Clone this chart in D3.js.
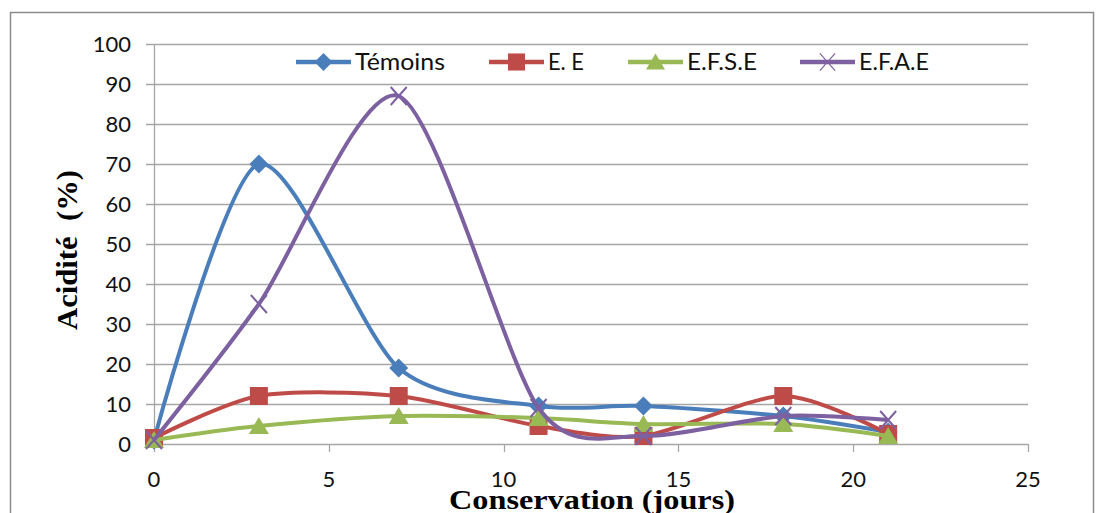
<!DOCTYPE html>
<html>
<head>
<meta charset="utf-8">
<script src="https://cdn.jsdelivr.net/npm/d3@7"></script>
<style>
  body { margin: 0; background: #fff; }
  svg { display: block; }
  text { white-space: pre; }
</style>
</head>
<body>
<div id="chart"></div>
<script>
// data
const days = [0, 3, 7, 11, 14, 18, 21];
const temoins = [1, 70, 19, 9.5, 9.5, 7, 3];
const ee = [1.5, 12, 12, 4.5, 2, 12, 2.5];
const efse = [1, 4.5, 7, 6.5, 5, 5, 2];
const efae = [1, 35, 87, 9, 2, 7, 6];
const seriesNames = ["Témoins", "E. E", "E.F.S.E", "E.F.A.E"];
const xTicks = [0, 5, 10, 15, 20, 25];
const yTicks = [0, 10, 20, 30, 40, 50, 60, 70, 80, 90, 100];

const series = [
  {name: seriesNames[0], values: temoins, color: "#4a7ebb", marker: "diamond"},
  {name: seriesNames[1], values: ee, color: "#be4b48", marker: "square"},
  {name: seriesNames[2], values: efse, color: "#98b954", marker: "triangle"},
  {name: seriesNames[3], values: efae, color: "#7d60a0", marker: "cross"}
];

const W = 1105, H = 513;
const svg = d3.select("#chart").append("svg").attr("width", W).attr("height", H);

// outer frame
svg.append("rect").attr("x", 10.5).attr("y", 12.5).attr("width", 1083).attr("height", 520)
  .attr("fill", "none").attr("stroke", "#8c8c8c").attr("stroke-width", 1.5);

const plot = {left: 154, right: 1028, top: 44, bottom: 444};
const x = d3.scaleLinear().domain([0, 25]).range([plot.left, plot.right]);
const y = d3.scaleLinear().domain([0, 100]).range([plot.bottom, plot.top]);

// gridlines
svg.append("g").selectAll("line").data(yTicks).join("line")
  .attr("x1", plot.left - 8).attr("x2", plot.right)
  .attr("y1", d => Math.round(y(d)) + 0.5).attr("y2", d => Math.round(y(d)) + 0.5)
  .attr("stroke", "#a6a6a6").attr("stroke-width", 1.3);

// y axis line
svg.append("line").attr("x1", plot.left + 0.5).attr("x2", plot.left + 0.5)
  .attr("y1", plot.top).attr("y2", plot.bottom).attr("stroke", "#a6a6a6").attr("stroke-width", 1.3);

// x ticks
svg.append("g").selectAll("line").data(xTicks).join("line")
  .attr("x1", d => Math.round(x(d)) + 0.5).attr("x2", d => Math.round(x(d)) + 0.5)
  .attr("y1", plot.bottom).attr("y2", plot.bottom + 8)
  .attr("stroke", "#a6a6a6").attr("stroke-width", 1.3);

const tickFont = "Lato, 'Open Sans', sans-serif";
svg.append("g").selectAll("text").data(yTicks).join("text")
  .attr("x", 131).attr("y", d => y(d) + 7.5)
  .attr("text-anchor", "end").attr("font-family", tickFont).attr("font-size", 22)
  .attr("fill", "#111").text(d => d);

svg.append("g").selectAll("text").data(xTicks).join("text")
  .attr("x", d => x(d)).attr("y", 487)
  .attr("text-anchor", "middle").attr("font-family", tickFont).attr("font-size", 22)
  .attr("fill", "#111").text(d => d);

// axis titles
svg.append("text").attr("transform", "translate(77,250) rotate(-90)")
  .attr("text-anchor", "middle").attr("font-family", "'Liberation Serif', 'DejaVu Serif', serif")
  .attr("font-weight", "bold").attr("font-size", 29).attr("fill", "#000")
  .attr("textLength", 160).attr("lengthAdjust", "spacingAndGlyphs")
  .text("Acidité  (%)");

svg.append("text").attr("x", 592).attr("y", 509)
  .attr("text-anchor", "middle").attr("font-family", "'Liberation Serif', 'DejaVu Serif', serif")
  .attr("font-weight", "bold").attr("font-size", 28).attr("fill", "#000")
  .attr("textLength", 286).attr("lengthAdjust", "spacingAndGlyphs")
  .text("Conservation (jours)");

// marker shapes
function markerPath(type, k) {
  if (type === "diamond") return `M0,${-9.5 * k}L${9.5 * k},0L0,${9.5 * k}L${-9.5 * k},0Z`;
  if (type === "square") return `M${-9 * k},${-9 * k}H${9 * k}V${9 * k}H${-9 * k}Z`;
  if (type === "triangle") return `M0,${-9 * k}L${10 * k},${8 * k}L${-10 * k},${8 * k}Z`;
  return `M${-8 * k},${-9 * k}L${8 * k},${9 * k}M${8 * k},${-9 * k}L${-8 * k},${9 * k}`;
}

const line = d3.line()
  .x((d, i) => x(days[i]))
  .y(d => y(d))
  .curve(d3.curveCardinal.tension(0.2));

series.forEach(s => {
  const g = svg.append("g");
  g.append("path").attr("d", line(s.values))
    .attr("fill", "none").attr("stroke", s.color).attr("stroke-width", 4)
    .attr("stroke-linejoin", "round");
  g.selectAll("path.mk").data(s.values).join("path").attr("class", "mk")
    .attr("transform", (d, i) => `translate(${x(days[i])},${y(d)})`)
    .attr("d", markerPath(s.marker, 1))
    .attr("fill", s.marker === "cross" ? "none" : s.color)
    .attr("stroke", s.color).attr("stroke-width", s.marker === "cross" ? 2 : 0);
});

// legend
const legendX = [296, 489, 628, 800];
const legendW = [90, 36, 70, 70];
const legend = svg.append("g");
series.forEach((s, i) => {
  const lx = legendX[i];
  legend.append("line").attr("x1", lx).attr("x2", lx + 55).attr("y1", 62).attr("y2", 62)
    .attr("stroke", s.color).attr("stroke-width", 4.5);
  legend.append("path").attr("transform", `translate(${lx + 27.5},62)`)
    .attr("d", markerPath(s.marker, 0.95))
    .attr("fill", s.marker === "cross" ? "none" : s.color)
    .attr("stroke", s.color).attr("stroke-width", s.marker === "cross" ? 1.2 : 0);
  legend.append("text").attr("x", lx + 59).attr("y", 70)
    .attr("font-family", tickFont).attr("font-size", 23).attr("fill", "#111")
    .attr("textLength", legendW[i]).attr("lengthAdjust", "spacingAndGlyphs")
    .text(s.name);
});
</script>
</body>
</html>
